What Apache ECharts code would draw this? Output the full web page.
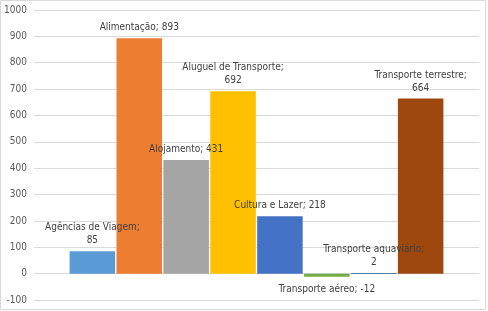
<!DOCTYPE html>
<html>
<head>
<meta charset="utf-8">
<script src="https://cdn.jsdelivr.net/npm/echarts@6/dist/echarts.min.js"></script>
<style>
  html, body { margin: 0; padding: 0; background: #fff; }
  #chart { width: 488px; height: 311px; }
</style>
</head>
<body>
<div id="chart"></div>
<script>
// dados
const seriesNames = ['Agências de Viagem', 'Alimentação', 'Alojamento', 'Aluguel de Transporte',
  'Cultura e Lazer', 'Transporte aéreo', 'Transporte aquaviário', 'Transporte terrestre'];
const seriesValues = [85, 893, 431, 692, 218, -12, 2, 664];
const colorList = ['#5B9BD5', '#ED7D31', '#A5A5A5', '#FFC000', '#4472C4', '#70AD47', '#255E91', '#9E480E'];
// rótulos que quebram linha no original
const wrapLabel = [true, false, false, true, false, false, true, true];

const chart = echarts.init(document.getElementById('chart'));
const labelFont = '"Liberation Sans Narrow", "DejaVu Sans Condensed", sans-serif';

const series = seriesNames.map((name, i) => ({
  name: name,
  type: 'bar',
  barGap: '3%',
  barCategoryGap: '16%',
  itemStyle: { color: colorList[i] },
  label: {
    show: true,
    position: seriesValues[i] < 0 ? 'bottom' : 'top',
    distance: seriesValues[i] < 0 ? 6 : 4,
    color: '#404040',
    fontSize: 10,
    lineHeight: 13,
    fontFamily: labelFont,
    formatter: (p) => p.seriesName + ';' + (wrapLabel[i] ? '\n' : ' ') + p.value
  },
  data: [seriesValues[i]]
}));

chart.setOption({
  animation: false,
  backgroundColor: '#fff',
  grid: { left: 34, right: 9, top: 10, bottom: 11 },
  xAxis: {
    type: 'category',
    data: [''],
    axisLine: { show: false },
    axisTick: { show: false },
    axisLabel: { show: false }
  },
  yAxis: {
    type: 'value',
    min: -100,
    max: 1000,
    interval: 100,
    axisLine: { show: false },
    axisTick: { show: false },
    axisLabel: { color: '#595959', fontSize: 10, margin: 7, fontFamily: labelFont, formatter: (v) => String(v) },
    splitLine: { lineStyle: { color: '#D9D9D9' } }
  },
  graphic: [{
    type: 'rect',
    shape: { x: 0.5, y: 0.5, width: 485, height: 309 },
    style: { fill: null, stroke: '#D9D9D9', lineWidth: 1 },
    silent: true
  }],
  series: series
});
</script>
</body>
</html>
